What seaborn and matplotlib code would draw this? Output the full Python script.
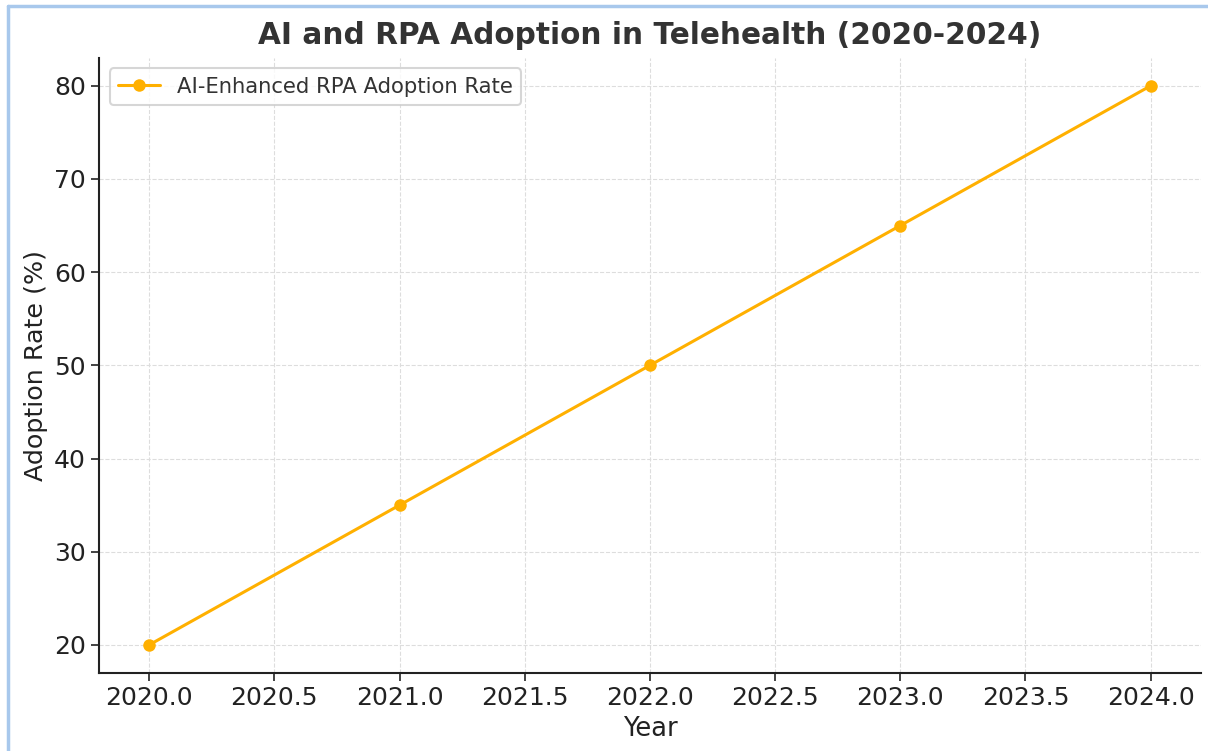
"""
AI and RPA adoption in telehealth, 2020-2024
"""

import matplotlib
matplotlib.use('Agg')
import matplotlib.pyplot as plt
import seaborn as sns
import pandas as pd
from matplotlib.lines import Line2D

years = [2020, 2021, 2022, 2023, 2024]
adoption_rate = [20, 35, 50, 65, 80]
series_name = 'AI-Enhanced RPA Adoption Rate'

df = pd.DataFrame({'Year': years, 'Adoption Rate (%)': adoption_rate})

sns.set_style('whitegrid', {
    'grid.linestyle': '--',
    'grid.color': '#dddddd',
    'axes.edgecolor': '#222222',
    'text.color': '#333333',
    'axes.labelcolor': '#222222',
    'xtick.color': '#222222',
    'ytick.color': '#222222',
})
plt.rcParams['font.family'] = ['DejaVu Sans']

fig, ax = plt.subplots(figsize=(12.08, 7.51), dpi=100)
sns.lineplot(data=df, x='Year', y='Adoption Rate (%)', marker='o',
             color='#ffb000', linewidth=2.2, markersize=9,
             markeredgewidth=0, label=series_name, ax=ax)

ax.set_title('AI and RPA Adoption in Telehealth (2020-2024)',
             fontsize=21.3, fontweight='bold', color='#333333', pad=10)
ax.set_xlabel('Year', fontsize=18.5, labelpad=4)
ax.set_ylabel('Adoption Rate (%)', fontsize=18.3)
ax.tick_params(axis='both', labelsize=18, length=6, width=1.2,
               bottom=True, left=True)
ax.xaxis.set_major_formatter(matplotlib.ticker.FormatStrFormatter('%.1f'))
for side in ['top', 'right']:
    ax.spines[side].set_visible(False)
for side in ['left', 'bottom']:
    ax.spines[side].set_linewidth(1.5)

leg = ax.legend(loc='upper left', fontsize=15.2, frameon=True)
leg.get_frame().set_edgecolor('#cccccc')
leg.get_frame().set_linewidth(1.5)

plt.subplots_adjust(left=0.082, right=0.994, top=0.923, bottom=0.104)

# light blue frame seen at the left and top edges of the reference
fig.add_artist(Line2D([0.007, 0.007], [0, 0.992], color='#a8c8ec',
                      linewidth=2.5, transform=fig.transFigure))
fig.add_artist(Line2D([0.007, 1], [0.992, 0.992], color='#a8c8ec',
                      linewidth=2.5, transform=fig.transFigure))

plt.savefig('out.png', dpi=100)
plt.close()
